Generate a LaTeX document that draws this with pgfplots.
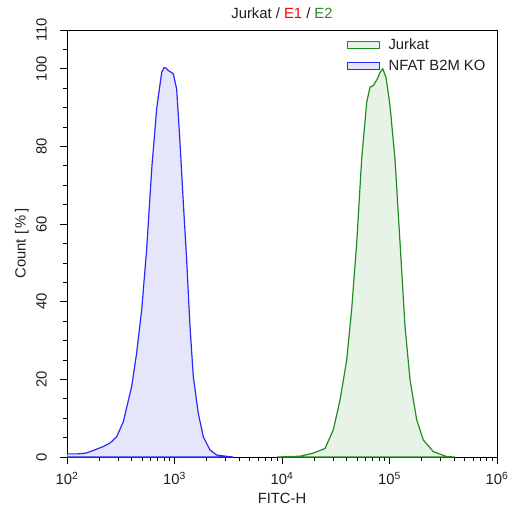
\documentclass[border=0pt]{standalone}
\usepackage{pgfplots}
\pgfplotsset{compat=1.18}
\usepackage{fontspec}
\setmainfont{Liberation Sans}
\definecolor{bline}{RGB}{40,40,255}
\definecolor{bfill}{RGB}{230,230,250}
\definecolor{gline}{RGB}{34,139,34}
\definecolor{gfill}{RGB}{232,243,232}
\definecolor{txt}{RGB}{30,30,30}
\begin{document}
\begin{tikzpicture}
\begin{axis}[
  scale only axis,
  width=430pt, height=427pt,
  xmode=log, xmin=100, xmax=1000000,
  ymin=0, ymax=110,
  axis line style={black, line width=0.8pt},
  tick style={black, line width=0.8pt},
  tick align=outside,
  xtick pos=bottom, ytick pos=left,
  major tick length=7pt, minor tick length=4pt,
  xtick={100,1000,10000,100000,1000000},
  xticklabels={10\textsuperscript{2},10\textsuperscript{3},10\textsuperscript{4},10\textsuperscript{5},10\textsuperscript{6}},
  ytick={0,20,40,60,80,100,110},
  minor ytick={5,10,15,25,30,35,45,50,55,65,70,75,85,90,95,105},
  yticklabel style={rotate=90, anchor=south, inner sep=2pt},
  yticklabel shift=11pt,
  xticklabel shift=5pt,
  /pgf/number format/assume math mode=true,
  ticklabel style={font=\fontsize{14.8}{16}\selectfont, text=txt},
  label style={font=\fontsize{14.8}{16}\selectfont, text=txt},
  xlabel={FITC-H},
  xlabel shift=1pt,
  ylabel={Count [\,\%\,]},
  ylabel shift=2pt,
  title={\color{txt}Jurkat / \textcolor{red}{E1} / \textcolor{gline}{E2}},
  title style={font=\fontsize{14.8}{16}\selectfont, yshift=2pt},
  legend style={at={(0.985,0.99)}, anchor=north east, draw=none, fill=none,
    font=\fontsize{14.8}{16}\selectfont, text=txt, row sep=5pt},
  legend cell align=left,
  legend image code/.code={\draw[#1, line width=1pt] (0pt,-3.5pt) rectangle (32pt,3.5pt);
    \path (38pt,0pt);},
]
\addplot[draw=gline, fill=gfill, line width=1.2pt] coordinates {
(8974,0)(14690,0.2)(19540,1)(25120,2.2)(30000,7)(34670,14.7)(39990,25)(44460,38)
(49550,55.2)(55080,76.7)(61380,91.4)(65920,95.3)(70630,95.7)(77090,97.4)(81660,99.1)
(86490,100)(92680,97.9)(101100,90.5)(112500,76.7)(125300,55.2)(139400,33.7)
(155200,19.9)(179100,9.6)(206100,4.4)(255300,1.4)(340400,0.1)(406400,0)
} \closedcycle;
\addlegendentry{Jurkat}
\addplot[draw=bline, fill=bfill, line width=1.2pt] coordinates {
(100,0.8)(125,0.8)(150,1.0)(180,1.8)(217.8,2.7)(251.2,3.6)(289.7,5.2)(334.2,9.1)
(399.9,18.2)(444.6,26.8)(495.5,38)(550.8,53.5)(613.8,74.2)(682.3,89.7)(760.3,99.1)
(800,100.3)(833.7,100.2)(870,99.6)(907.8,99.3)(975,98.7)(1047,94.8)(1125,81)
(1208,65.5)(1297,50.9)(1393,33.7)(1496,20.7)(1663,11.3)(1854,5.2)(2138,1.8)
(2472,0.5)(3000,0.2)(3500,0)
} \closedcycle;
\addlegendentry{NFAT B2M KO}
\end{axis}
\pgfresetboundingbox
\path (current axis.south west) ++(-67pt,-57pt) rectangle ++(509pt,514pt);
\end{tikzpicture}
\end{document}
